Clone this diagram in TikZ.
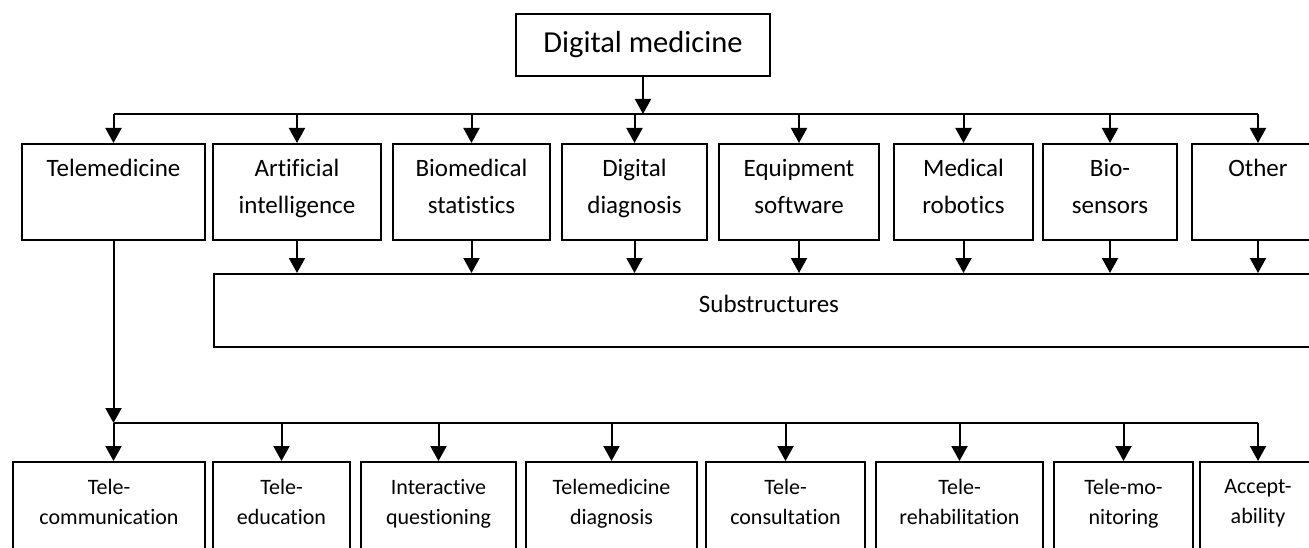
\documentclass[tikz,border=0pt]{standalone}
\usepackage{fontspec}
\setmainfont{Carlito}[Ligatures=NoCommon]
\usetikzlibrary{arrows.meta,calc,positioning}

\begin{document}
\begin{tikzpicture}[x=1pt,y=-1pt,line width=2pt,
  arr/.style={-{Triangle[length=15pt,width=16pt]}},
  topbox/.style={draw,anchor=north,minimum height=96pt,align=center,inner sep=0pt,
    font=\fontsize{25}{37}\selectfont,
    execute at begin node=\rule{0pt}{32pt},execute at end node=\strut},
  lowbox/.style={draw,anchor=north,minimum height=88pt,align=center,inner sep=0pt,
    font=\fontsize{22}{30}\selectfont,
    execute at begin node=\rule{0pt}{25pt},execute at end node=\strut}]

\useasboundingbox (0,0) rectangle (1309,548);
\clip (0,0) rectangle (1309,548);

% Root
\node[draw,minimum width=254pt,minimum height=62pt,font=\fontsize{30.5}{36}\selectfont] (dm) at (643,45) {Digital medicine};

% First level
\node[topbox,minimum width=183pt] (tele) at (113.5,143) {Telemedicine\\\mbox{}};
\node[topbox,minimum width=168pt] (ai) at (297,143) {Artificial\\intelligence};
\node[topbox,minimum width=157pt] (bstat) at (471.5,143) {Biomedical\\statistics};
\node[topbox,minimum width=145pt] (ddiag) at (634.5,143) {Digital\\diagnosis};
\node[topbox,minimum width=160pt] (equip) at (799,143) {Equipment\\software};
\node[topbox,minimum width=139pt] (robot) at (963.5,143) {Medical\\robotics};
\node[topbox,minimum width=134pt] (bios) at (1110,143) {Bio-\\sensors};
\node[topbox,minimum width=132pt] (other) at (1258,143) {Other\\\mbox{}};

% Substructures
\node[draw,anchor=north west,minimum width=1110pt,minimum height=73pt,inner sep=0pt,
  text depth=14pt,font=\fontsize{25}{30}\selectfont] (sub) at (213,273) {Substructures};

% Telemedicine branches
\node[lowbox,minimum width=192pt] (tcom) at (109,461) {Tele-\\communication};
\node[lowbox,minimum width=137pt] (tedu) at (281.5,461) {Tele-\\education};
\node[lowbox,minimum width=155pt] (iq) at (438.5,461) {Interactive\\questioning};
\node[lowbox,minimum width=171pt] (tmd) at (611.5,461) {Telemedicine\\diagnosis};
\node[lowbox,minimum width=159pt] (tcons) at (785.5,461) {Tele-\\consultation};
\node[lowbox,minimum width=167pt] (trehab) at (959.5,461) {Tele-\\rehabilitation};
\node[lowbox,minimum width=139pt] (tmon) at (1123.5,461) {Tele-mo-\\nitoring};
\node[lowbox,minimum width=116pt] (accept) at (1258,461) {Accept-\\ability};

% Bars
\coordinate (bar) at (0,114);
\coordinate (bar2) at (0,423);

% Arrows
\draw[arr] (dm) -- (dm |- bar);
\draw (tele.north |- bar) -- (other.north |- bar);
\foreach \n in {tele,ai,bstat,ddiag,equip,robot,bios,other}
  \draw[arr] (\n.north |- bar) -- (\n.north);
\foreach \n in {ai,bstat,ddiag,equip,robot,bios,other}
  \draw[arr] (\n.south) -- (\n.south |- sub.north);
\draw[arr] (tele.south) -- (tele.south |- bar2);
\draw (tele.south |- bar2) -- (accept.north |- bar2);
\draw[arr] (tele.south |- bar2) -- (tele.south |- tcom.north);
\foreach \n in {tedu,iq,tmd,tcons,trehab,tmon,accept}
  \draw[arr] (\n.north |- bar2) -- (\n.north);

\end{tikzpicture}
\end{document}
